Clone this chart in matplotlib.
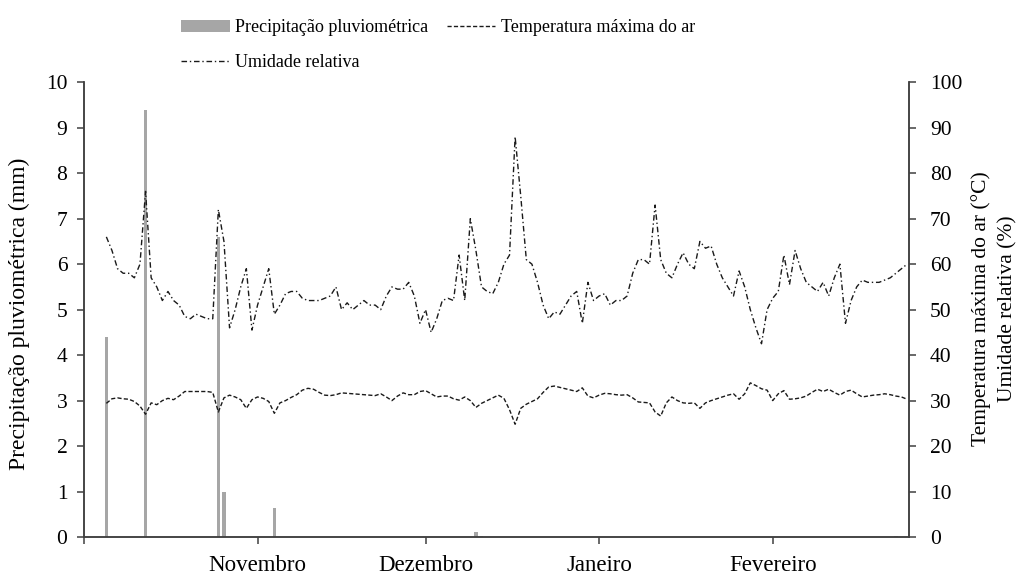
import matplotlib
matplotlib.use("Agg")
import matplotlib.pyplot as plt
import pandas as pd

plt.rcParams['font.family'] = ['Liberation Serif', 'DejaVu Serif']

# daily series, starting 5 Oct
first_day = '2014-10-05'
umidade = [
    66, 63, 59, 58, 58, 57, 60, 76, 57, 55,
    52, 54, 52, 51, 48.5, 48, 49, 48.5, 48, 48,
    72, 65, 46, 50, 55, 59, 45.5, 51, 55, 59,
    49, 51, 53.5, 54, 54, 52.5, 52, 52, 52, 52.5,
    53, 55, 50, 51.5, 50, 51, 52, 51, 51, 50,
    53, 55, 54.5, 54.5, 56, 53, 47, 50, 45, 48,
    52, 52.5, 52, 62, 52, 70, 63, 55, 54, 53.5,
    56, 60, 62, 88, 75, 61, 60, 56, 51, 48,
    49.5, 49, 51, 53, 54, 47, 56, 52, 53, 53.5,
    51, 52, 52, 53, 58, 61, 61, 60, 73, 61,
    58, 57, 60, 62.5, 60, 59, 65, 63.5, 64, 60,
    57, 55, 53, 58.5, 55, 50, 46, 42.5, 50, 52.5,
    54, 62, 55.5, 63, 59, 56, 55, 54, 56, 53,
    57, 60, 47, 52, 55, 56.5, 56, 56, 56, 56.5,
    57, 58, 59, 60,
]
temperatura = [
    29.4, 30.4, 30.6, 30.4, 30.3, 29.8, 28.8, 27.0, 29.5, 29.1,
    30.0, 30.5, 30.2, 31.0, 32.0, 32.0, 32.0, 32.0, 32.0, 31.8,
    27.5, 30.6, 31.2, 30.8, 30.2, 28.3, 30.2, 30.8, 30.5, 29.8,
    27.2, 29.5, 30.0, 30.7, 31.3, 32.3, 32.7, 32.5, 31.8, 31.2,
    31.1, 31.3, 31.7, 31.6, 31.5, 31.4, 31.3, 31.2, 31.1, 31.5,
    30.8, 30.0, 31.0, 31.7, 31.3, 31.3, 32.0, 32.2, 31.5, 30.8,
    31.0, 31.0, 30.4, 30.1, 30.8, 30.0, 28.5, 29.4, 30.0, 30.6,
    31.2, 30.5, 28.0, 24.8, 28.3, 29.2, 29.8, 30.4, 31.8, 33.0,
    33.2, 32.9, 32.6, 32.3, 32.0, 32.8, 31.0, 30.6, 31.2, 31.6,
    31.5, 31.3, 31.2, 31.3, 30.6, 29.7, 29.6, 29.5, 27.5, 26.6,
    29.5, 30.8, 30.0, 29.5, 29.4, 29.5, 28.3, 29.5, 30.0, 30.4,
    30.8, 31.2, 31.5, 30.3, 31.5, 33.9, 33.3, 32.6, 32.3, 30.0,
    31.5, 32.2, 30.3, 30.4, 30.6, 31.0, 31.8, 32.5, 32.0, 32.5,
    31.8, 31.2, 32.0, 32.3, 31.5, 30.8, 31.0, 31.2, 31.3, 31.5,
    31.3, 31.0, 30.8, 30.3,
]
chuva_datas = ['2014-10-05', '2014-10-12', '2014-10-25', '2014-10-26',
               '2014-11-04', '2014-12-10', '2014-12-11', '2015-02-23']
chuva_mm = [4.4, 9.4, 6.6, 1.0, 0.63, 0.12, 0.03, 0.03]
meses = ['', 'Novembro', 'Dezembro', 'Janeiro', 'Fevereiro']

datas = pd.date_range(first_day, periods=len(umidade), freq='D')
chuva_x = pd.to_datetime(chuva_datas)

fig = plt.figure(figsize=(10.19, 5.75), dpi=100)
ax = fig.add_axes([0.0824, 0.066, 0.8096, 0.791])
ax2 = ax.twinx()

bars = ax.bar(chuva_x, chuva_mm, width=0.6, color='#a6a6a6',
              label='Precipitação pluviométrica')
l_temp, = ax2.plot(datas, temperatura, color='#1a1a1a', lw=1.0,
                   dashes=(3, 1.6), label='Temperatura máxima do ar')
l_umid, = ax2.plot(datas, umidade, color='#1a1a1a', lw=1.0,
                   dashes=(4, 2, 1, 2), label='Umidade relativa')

ax.set_ylim(0, 10)
ax2.set_ylim(0, 100)
ax.set_yticks(range(0, 11))
ax2.set_yticks(range(0, 101, 10))
ax.set_xlim(pd.Timestamp('2014-10-01'), pd.Timestamp('2015-02-25 08:00'))
ax.set_xticks(pd.to_datetime(['2014-10-01', '2014-11-01', '2014-12-01',
                              '2015-01-01', '2015-02-01']))
ax.set_xticklabels(meses)

for a in (ax, ax2):
    a.spines['top'].set_visible(False)
    for s in ('left', 'right', 'bottom'):
        a.spines[s].set_linewidth(1.1)
        a.spines[s].set_color('#404040')
ax.tick_params(axis='both', direction='out', length=5, width=1.1,
               color='#404040', labelsize=15.5)
ax.tick_params(axis='x', pad=8, labelsize=16.5)
ax.tick_params(axis='y', pad=7)
ax2.tick_params(axis='y', direction='out', length=5, width=1.1,
                color='#404040', labelsize=15.5, pad=10)

ax.set_ylabel('Precipitação pluviométrica (mm)', fontsize=17)
ax.yaxis.set_label_coords(-0.065, 0.49)
ax2.set_ylabel('Temperatura máxima do ar (°C)\nUmidade relativa (%)',
               fontsize=15.5, linespacing=1.55)
ax2.yaxis.set_label_coords(1.075, 0.503)

fig.legend([bars, l_umid, l_temp],
           ['Precipitação pluviométrica', 'Umidade relativa',
            'Temperatura máxima do ar'],
           loc='upper left', bbox_to_anchor=(0.169, 0.982), ncol=2,
           frameon=False, fontsize=13, handlelength=2.7, handletextpad=0.3,
           columnspacing=1.0, labelspacing=1.0, borderpad=0)

fig.savefig('out.png', dpi=100)
